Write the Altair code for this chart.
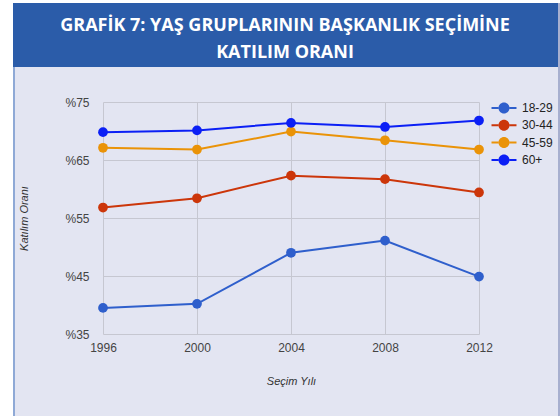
import altair as alt
import pandas as pd

# ---- data ----
years = [1996, 2000, 2004, 2008, 2012]
groups = ["18-29", "30-44", "45-59", "60+"]
g18_29 = [39.5, 40.2, 49.0, 51.1, 44.9]
g30_44 = [56.8, 58.4, 62.3, 61.7, 59.4]
g45_59 = [67.1, 66.8, 69.9, 68.4, 66.8]
g60p = [69.8, 70.1, 71.4, 70.7, 71.8]
colors = ["#2f5fcc", "#cc360a", "#ea9308", "#0b1ff5"]
y_ticks = [35, 45, 55, 65, 75]
title_lines = ["GRAFİK 7: YAŞ GRUPLARININ BAŞKANLIK SEÇİMİNE", "KATILIM ORANI"]

series = {"18-29": g18_29, "30-44": g30_44, "45-59": g45_59, "60+": g60p}
rows = []
for g in groups:
    for yr, v in zip(years, series[g]):
        rows.append({"year": yr, "group": g, "value": v})
df = pd.DataFrame(rows)

W, H = 376, 232
PL, PT = 103, 102
PANEL = "#e3e5f2"
HEADER = "#2b5ca9"

one = alt.Data(values=[{}])

def box(x0, x1, y0, y1, color):
    # absolute page coordinates converted to plot coordinates
    return alt.Chart(one).mark_rect(color=color).encode(
        x=alt.value(x0 - PL), x2=alt.value(x1 - PL),
        y=alt.value(y0 - PT), y2=alt.value(y1 - PT))

white_left = box(0, 13, 0, 416, "white")
white_top = box(0, 560, 0, 3, "white")
header = box(13, 558, 3, 67, HEADER)
border_left = box(13, 15, 67, 416, "#8fa9d6")
border_right = box(558, 560, 3, 416, "#a7afcf")

title = alt.Chart(one).mark_text(
    font="Open Sans", fontWeight="bold", fontSize=18, color="white",
    align="center", baseline="alphabetic", lineHeight=27,
).encode(x=alt.value(285 - PL), y=alt.value(31 - PT), text=alt.value(title_lines))

xenc = alt.X("year:Q", scale=alt.Scale(domain=[1996, 2012], nice=False, zero=False),
             axis=alt.Axis(values=years, format="d", title="Seçim Yılı", grid=True,
                           domain=False, ticks=False, labelPadding=8, labelFlush=False,
                           labelFont="Liberation Sans", labelFontSize=12, labelColor="#444444",
                           titleFont="Liberation Sans", titleFontSize=11, titleFontStyle="italic",
                           titleFontWeight="normal", titleColor="#333333",
                           titleX=W / 2, titleY=381 - PT - H, titleBaseline="middle",
                           gridColor="#c6c7d1", gridWidth=1))
yenc = alt.Y("value:Q", scale=alt.Scale(domain=[35, 75], nice=False, zero=False),
             axis=alt.Axis(values=y_ticks, labelExpr="'%' + datum.value", title="Katılım Oranı",
                           grid=True, domain=False, ticks=False, labelPadding=14,
                           labelFont="Liberation Sans", labelFontSize=12, labelColor="#444444",
                           titleFont="Liberation Sans", titleFontSize=11, titleFontStyle="italic",
                           titleFontWeight="normal", titleColor="#333333",
                           titleX=24 - PL, titleY=H / 2, titleBaseline="middle",
                           gridColor="#c6c7d1", gridWidth=1))

cscale = alt.Scale(domain=groups, range=colors)

sym = ("M-1.47,-0.118 L-0.63,-0.118 L-0.63,0.118 L-1.47,0.118 Z "
       "M0.63,-0.118 L1.47,-0.118 L1.47,0.118 L0.63,0.118 Z "
       "M-0.647,0 A0.647,0.647 0 1,0 0.647,0 A0.647,0.647 0 1,0 -0.647,0 Z")

legend = alt.Legend(title=None, orient="none", legendX=392.5, legendY=-2.5,
                    symbolType=sym, symbolSize=289, symbolStrokeWidth=0,
                    symbolOpacity=1,
                    labelOffset=9.5, labelFont="Liberation Sans",
                    labelFontSize=12, labelColor="#222222", rowPadding=2.3,
                    padding=0)

color = alt.Color("group:N", scale=cscale, sort=groups, legend=legend)

lines = alt.Chart(df).mark_line(strokeWidth=2).encode(x=xenc, y=yenc, color=color)
points = alt.Chart(df).mark_point(filled=True, size=95, opacity=1).encode(
    x=xenc, y=yenc, color=color)

chart = alt.layer(
    white_left, white_top, header, border_left, border_right, title, lines, points
).properties(
    width=W, height=H,
    autosize=alt.AutoSizeParams(type="none"),
    padding={"left": PL, "top": PT, "right": 560 - PL - W, "bottom": 416 - PT - H},
    background=PANEL,
).configure_view(stroke=None)

chart.save("out.html", embed_options={"renderer": "svg", "actions": False})
